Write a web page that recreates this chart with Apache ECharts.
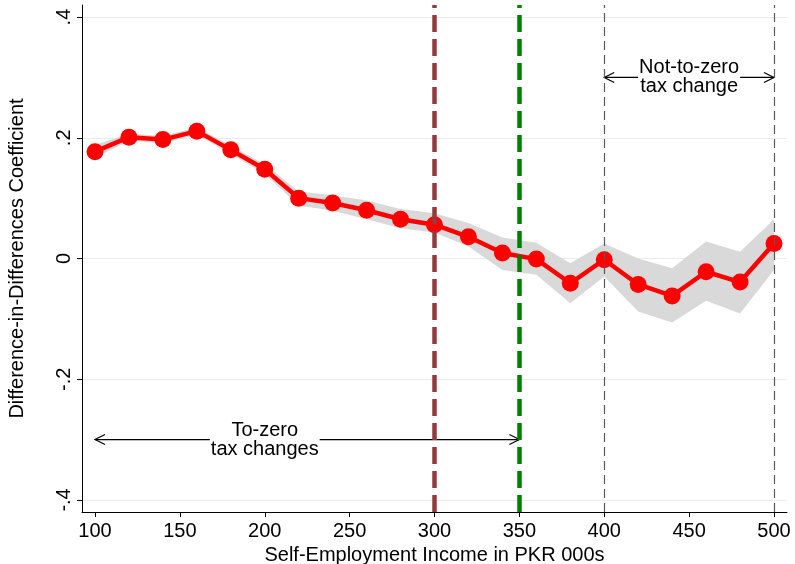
<!DOCTYPE html>
<html><head><meta charset="utf-8">
<script src="https://cdn.jsdelivr.net/npm/echarts@6/dist/echarts.min.js"></script>
<style>html,body{margin:0;padding:0;background:#fff}#c{width:795px;height:564px}</style>
</head><body><div id="c"></div>
<script>
const incomeK = [100,120,140,160,180,200,220,240,260,280,300,320,340,360,380,400,420,440,460,480,500];
const coef   = [0.177,0.201,0.197,0.211,0.180,0.148,0.100,0.092,0.080,0.065,0.056,0.036,0.009,-0.001,-0.041,-0.002,-0.043,-0.062,-0.022,-0.039,0.025];
const ciHigh = [0.188,0.207,0.203,0.217,0.187,0.156,0.111,0.105,0.096,0.082,0.075,0.059,0.035,0.026,-0.008,0.025,0.000,-0.016,0.028,0.011,0.065];
const ciLow  = [0.167,0.195,0.191,0.205,0.173,0.140,0.088,0.079,0.065,0.050,0.043,0.020,-0.019,-0.027,-0.074,-0.030,-0.088,-0.106,-0.070,-0.091,-0.019];
const xTicks = [100,150,200,250,300,350,400,450,500];
const yTicks = [-0.4,-0.2,0,0.2,0.4];
const yTickLabels = ['-.4','-.2','0','.2','.4'];
const refLinesX = [300,350,400,500];
const arrowStart = [100,400];
const arrowEnd = [350,500];
const arrowY = [-0.3,0.3];
const noteX = [200,450];
const noteText = ['To-zero\ntax changes','Not-to-zero\ntax change'];

const FONT = '"Liberation Sans", Arial, sans-serif';
const refStyles = [
  {color:'#933a40', width:4.5, type:[17,7]},
  {color:'#008000', width:4.5, type:[17,7]},
  {color:'#5a5a5a', width:1.2, type:[9,5]},
  {color:'#5a5a5a', width:1.2, type:[9,5]}
];

const chart = echarts.init(document.getElementById('c'), null, {renderer:'canvas'});
chart.setOption({
  animation:false,
  backgroundColor:'#fff',
  grid:{left:82, right:8, top:5, bottom:52, containLabel:false, outerBoundsMode:'none'},
  xAxis:{
    type:'value', min:92.34, max:507.66,
    axisLine:{show:true, onZero:false, lineStyle:{color:'#000', width:1}},
    axisTick:{show:true, length:5, customValues:xTicks, lineStyle:{color:'#000'}},
    axisLabel:{customValues:xTicks, fontSize:20, color:'#000', margin:9, fontFamily:FONT},
    splitLine:{show:false},
    name:'Self-Employment Income in PKR 000s', nameLocation:'middle', nameGap:31,
    nameTextStyle:{fontSize:20, color:'#000', fontFamily:FONT}
  },
  yAxis:{
    type:'value', min:-0.42, max:0.42,
    axisLine:{show:true, onZero:false, lineStyle:{color:'#000', width:1}},
    axisTick:{show:true, length:5, customValues:yTicks, lineStyle:{color:'#000'}},
    axisLabel:{customValues:yTicks, rotate:90, fontSize:20, color:'#000', margin:8, fontFamily:FONT,
      formatter:v=>{const i=yTicks.findIndex(t=>Math.abs(t-v)<1e-9); return i>=0?yTickLabels[i]:'';}},
    splitLine:{show:true, lineStyle:{color:'#e5edef', width:1}},
    name:'Difference-in-Differences Coefficient', nameLocation:'middle', nameGap:55,
    nameTextStyle:{fontSize:20, color:'#000', fontFamily:FONT}
  },
  series:[
    {
      type:'custom', z:1, silent:true,
      data: incomeK.map((x,i)=>[x, ciLow[i], ciHigh[i]]),
      renderItem:(params, api)=>{
        if (params.dataIndex !== 0) return null;
        const up = incomeK.map((x,i)=>api.coord([x, ciHigh[i]]));
        const lo = incomeK.map((x,i)=>api.coord([x, ciLow[i]])).reverse();
        return {type:'polygon', shape:{points: up.concat(lo)}, style:{fill:'#d9d9d9'}};
      }
    },
    {
      type:'line', z:2, data:[], silent:true,
      markLine:{
        silent:true, symbol:['none','none'], label:{show:false}, animation:false,
        data: refLinesX.map((x,i)=>({xAxis:x, lineStyle:refStyles[i]}))
      }
    },
    {
      type:'custom', z:2, silent:true,
      data: arrowStart.map((s,i)=>[s, arrowEnd[i], arrowY[i], noteX[i]]),
      renderItem:(params, api)=>{
        const i = params.dataIndex;
        const p1 = api.coord([api.value(0), api.value(2)]);
        const p2 = api.coord([api.value(1), api.value(2)]);
        const pt = api.coord([api.value(3), api.value(2)]);
        const L = 10, W = 5;
        const ls = {stroke:'#000', lineWidth:1.2, fill:null};
        return {type:'group', children:[
          {type:'line', shape:{x1:p1[0], y1:p1[1], x2:p2[0], y2:p2[1]}, style:ls},
          {type:'polyline', shape:{points:[[p1[0]+L,p1[1]-W],[p1[0],p1[1]],[p1[0]+L,p1[1]+W]]}, style:ls},
          {type:'polyline', shape:{points:[[p2[0]-L,p2[1]-W],[p2[0],p2[1]],[p2[0]-L,p2[1]+W]]}, style:ls},
          {type:'text', x:pt[0], y:pt[1], style:{text:noteText[i], fontSize:20, fontFamily:FONT, fill:'#000',
            align:'center', verticalAlign:'middle', lineHeight:19, backgroundColor:'#fff', padding:[0,1]}}
        ]};
      }
    },
    {
      type:'line', z:3, data: incomeK.map((x,i)=>[x, coef[i]]),
      symbol:'circle', symbolSize:17, showSymbol:true,
      lineStyle:{color:'#ff0000', width:4.5},
      itemStyle:{color:'#ff0000'}
    }
  ]
});
</script></body></html>
